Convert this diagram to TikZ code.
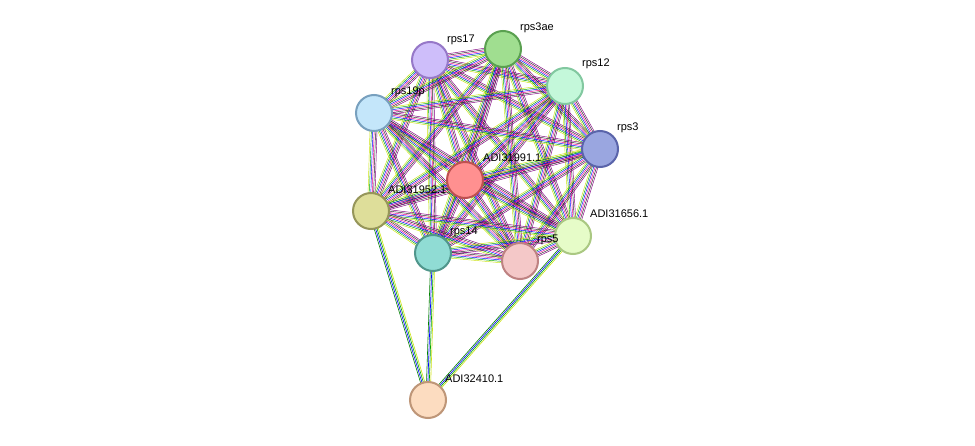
\documentclass[tikz,border=0pt]{standalone}
\usepackage{fontspec}
\setmainfont{Liberation Sans}
\usetikzlibrary{calc}
\begin{document}
\begin{tikzpicture}[x=1pt,y=-1pt,
  prot/.style={circle,minimum size=36pt,inner sep=0pt,line width=2pt},
  lab/.style={anchor=west,font=\fontsize{11}{13}\selectfont,inner sep=1pt}]
\useasboundingbox[fill=white] (0,0) rectangle (975,446);
\coordinate (rps17) at (430,60);
\coordinate (rps3ae) at (503,49);
\coordinate (rps12) at (565,86);
\coordinate (rps19p) at (374,113);
\coordinate (rps3) at (600,149);
\coordinate (a91) at (465,180);
\coordinate (a52) at (371,211);
\coordinate (a56) at (573,236);
\coordinate (rps14) at (433,253);
\coordinate (rps5) at (520,261);
\coordinate (a10) at (428,400);
\foreach \a/\b [count=\k] in {rps17/rps3ae,rps17/rps12,rps17/rps19p,rps17/rps3,rps17/a91,rps17/a52,rps17/a56,rps17/rps14,rps17/rps5,
 rps3ae/rps12,rps3ae/rps19p,rps3ae/rps3,rps3ae/a91,rps3ae/a52,rps3ae/a56,rps3ae/rps14,rps3ae/rps5,
 rps12/rps19p,rps12/rps3,rps12/a91,rps12/a52,rps12/a56,rps12/rps14,rps12/rps5,
 rps19p/rps3,rps19p/a91,rps19p/a52,rps19p/a56,rps19p/rps14,rps19p/rps5,
 rps3/a91,rps3/a52,rps3/a56,rps3/rps14,rps3/rps5,
 a91/a52,a91/a56,a91/rps14,a91/rps5,
 a52/a56,a52/rps14,a52/rps5,
 a56/rps14,a56/rps5,rps14/rps5}{
  \foreach \c/\o in {yellow!80!green/-3.5,green!65!black/-2.1,blue/-0.7,magenta/0.7,black!85/2.1,violet/3.5}
    \draw[\c,line width=0.45pt] ($(\a)!{\o pt}!90:(\b)$) -- ($(\b)!{\o pt}!-90:(\a)$);
}
\foreach \a/\b in {a10/a52,a10/rps14,a10/a56}{
  \foreach \c/\o in {yellow!80!green/-2.1,green!65!black/-0.7,blue/0.7,green!50!black/2.1}
    \draw[\c,line width=0.6pt] ($(\a)!{\o pt}!90:(\b)$) -- ($(\b)!{\o pt}!-90:(\a)$);
}
\node[prot,fill={rgb,255:red,206;green,190;blue,250},draw={rgb,255:red,150;green,120;blue,200}] (n1) at (rps17) {};
\node[prot,fill={rgb,255:red,160;green,222;blue,144},draw={rgb,255:red,90;green,160;blue,80}] (n2) at (rps3ae) {};
\node[prot,fill={rgb,255:red,196;green,248;blue,218},draw={rgb,255:red,130;green,200;blue,160}] (n3) at (rps12) {};
\node[prot,fill={rgb,255:red,196;green,230;blue,250},draw={rgb,255:red,120;green,160;blue,190}] (n4) at (rps19p) {};
\node[prot,fill={rgb,255:red,154;green,166;blue,224},draw={rgb,255:red,90;green,100;blue,170}] (n5) at (rps3) {};
\node[prot,fill={rgb,255:red,255;green,144;blue,144},draw={rgb,255:red,190;green,80;blue,80}] (n6) at (a91) {};
\node[prot,fill={rgb,255:red,222;green,222;blue,154},draw={rgb,255:red,150;green,150;blue,90}] (n7) at (a52) {};
\node[prot,fill={rgb,255:red,230;green,252;blue,200},draw={rgb,255:red,170;green,200;blue,130}] (n8) at (a56) {};
\node[prot,fill={rgb,255:red,144;green,220;blue,212},draw={rgb,255:red,80;green,150;blue,140}] (n9) at (rps14) {};
\node[prot,fill={rgb,255:red,244;green,200;blue,200},draw={rgb,255:red,190;green,130;blue,130}] (n10) at (rps5) {};
\node[prot,fill={rgb,255:red,252;green,220;blue,192},draw={rgb,255:red,190;green,150;blue,120}] (n11) at (a10) {};
\node[lab] at (446,40) {rps17};
\node[lab] at (519,28) {rps3ae};
\node[lab] at (581,64) {rps12};
\node[lab] at (390,92) {rps19p};
\node[lab] at (616,128) {rps3};
\node[lab] at (482,158) {ADI31991.1};
\node[lab] at (387,190) {ADI31952.1};
\node[lab] at (589,214) {ADI31656.1};
\node[lab] at (449,232) {rps14};
\node[lab] at (536,240) {rps5};
\node[lab] at (444,379) {ADI32410.1};
\end{tikzpicture}
\end{document}
